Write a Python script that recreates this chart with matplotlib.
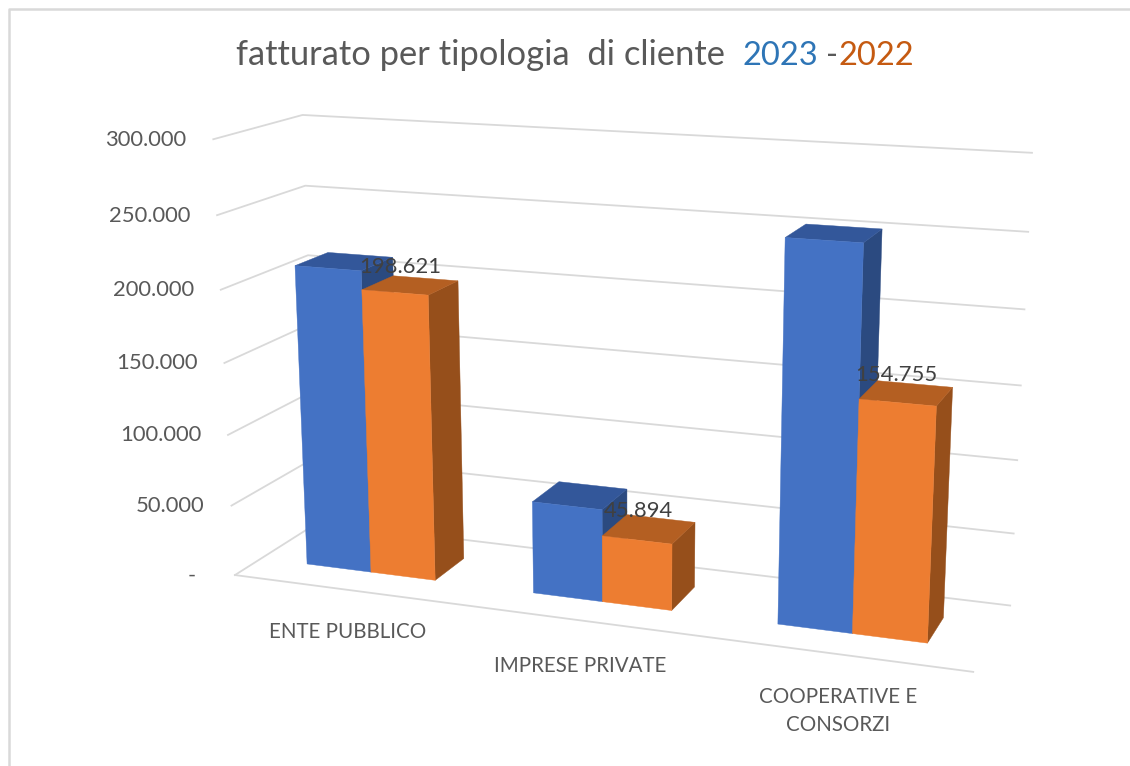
import numpy as np
import matplotlib
matplotlib.use("Agg")
import matplotlib.pyplot as plt
from matplotlib.patches import Polygon

plt.rcParams['font.family'] = ['Lato', 'DejaVu Sans']

categories = ["ENTE PUBBLICO", "IMPRESE PRIVATE", "COOPERATIVE E\nCONSORZI"]
values_2023 = [211500, 64000, 253000]
values_2022 = [198621, 45894, 154755]
tick_values = [0, 50000, 100000, 150000, 200000, 250000, 300000]
tick_labels = ["-", "50.000", "100.000", "150.000", "200.000", "250.000", "300.000"]
data_labels = ["198.621", "45.894", "154.755"]

# camera: correspondences between chart coordinates (category, depth, value in k)
# and canvas pixels, solved into one projective matrix
anchors = [((0, 0, 0), (235, 575)), ((3, 0, 0), (973, 672)), ((0, 1, 0), (318, 522)),
           ((3, 1, 0), (1010, 606)), ((0, 0, 300), (213, 139)), ((0, 1, 300), (303, 115)),
           ((3, 1, 300), (1032, 153)), ((0, 0, 250), (217, 215)), ((0, 1, 250), (305, 186)),
           ((3, 1, 250), (1028, 232)), ((0, 0, 50), (232, 506)), ((3, 1, 50), (1014, 533)),
           ((3, 1, 150), (1021, 385))]
A, b = [], []
for (u, d, v), (x, y) in anchors:
    A.append([u, d, v, 1, 0, 0, 0, 0, -x * u, -x * d, -x * v]); b.append(x)
    A.append([0, 0, 0, 0, u, d, v, 1, -y * u, -y * d, -y * v]); b.append(y)
P = np.append(np.linalg.lstsq(np.array(A, float), np.array(b, float), rcond=None)[0], 1).reshape(3, 4)


def proj(u, d, v):
    r = P @ np.array([u, d, v / 1000, 1.0])
    return r[:2] / r[2]


GRID = "#D9D9D9"
TXT = "#595959"

fig = plt.figure(figsize=(11.3, 7.66), dpi=100)
ax = fig.add_axes([0, 0, 1, 1])
ax.set_xlim(0, 1130)
ax.set_ylim(766, 0)
ax.axis("off")

# outer frame
ax.plot([8.5, 8.5, 1130], [766, 9, 9], color=GRID, lw=1.8, solid_capstyle="butt", zorder=1)

# walls and floor
for v in tick_values:
    pts = np.array([proj(0, 0, v), proj(0, 1, v), proj(3, 1, v)])
    ax.plot(pts[:, 0], pts[:, 1], color=GRID, lw=1.3, zorder=2)
pts = np.array([proj(0, 0, 0), proj(3, 0, 0)])
ax.plot(pts[:, 0], pts[:, 1], color=GRID, lw=1.3, zorder=2)

# bars
U0, U1, U2 = 0.21, 0.50, 0.785
D0, D1 = 0.305, 0.695


def box(u0, u1, v, cols, z):
    front = [proj(u0, D0, 0), proj(u1, D0, 0), proj(u1, D0, v), proj(u0, D0, v)]
    top = [proj(u0, D0, v), proj(u1, D0, v), proj(u1, D1, v), proj(u0, D1, v)]
    side = [proj(u1, D0, 0), proj(u1, D1, 0), proj(u1, D1, v), proj(u1, D0, v)]
    for poly, c in zip((side, top, front), (cols[2], cols[1], cols[0])):
        ax.add_patch(Polygon(poly, closed=True, facecolor=c, edgecolor=c, lw=0.3, zorder=z))


BLUE = ("#4472C4", "#33579A", "#2B4A80")
ORANGE = ("#ED7D31", "#B45F22", "#964F1B")
for i in range(len(categories)):
    box(i + U0, i + U1, values_2023[i], BLUE, 3 + i)
    box(i + U1, i + U2, values_2022[i], ORANGE, 3.5 + i)
    dl = proj(i + 0.645, 0.5, values_2022[i])
    ax.text(dl[0] - 11, dl[1] - 18, data_labels[i], ha="center", va="center", fontsize=15.8,
            color="#404040", zorder=10)

# value axis labels
for v, lab in zip(tick_values, tick_labels):
    p = proj(0, 0, v)
    ax.text(p[0] - 27 if v else 196, p[1] + 0.5, lab, ha="right", va="center", fontsize=15.8,
            color=TXT, zorder=10)

# category labels
cat_xy = [(348, 632), (580, 666), (838, 711)]
for (x, y), lab in zip(cat_xy, categories):
    ax.text(x, y, lab, ha="center", va="center", fontsize=14.8, color=TXT, linespacing=1.5, zorder=10)

# title
for x, s, c, fs in [(236, "fatturato per tipologia  di cliente", TXT, 24.8), (743, "2023", "#2E75B6", 23.5),
                    (826, "-", TXT, 23.5), (838, "2022", "#C55A11", 23.5)]:
    ax.text(x, 65, s, ha="left", va="baseline", fontsize=fs, color=c, zorder=10)

fig.savefig("out.png", dpi=100)
